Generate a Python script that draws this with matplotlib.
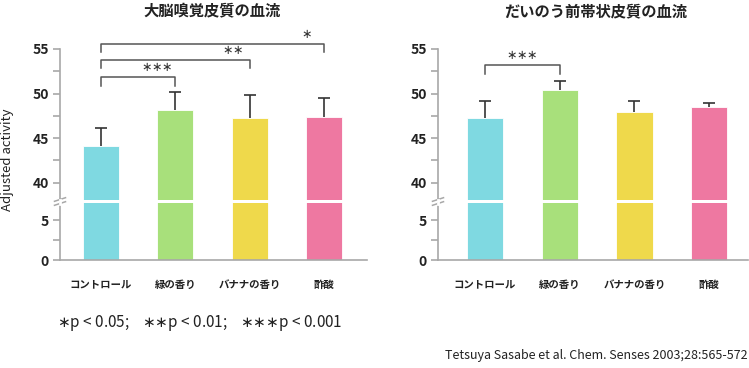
import matplotlib
matplotlib.use("Agg")
import matplotlib.pyplot as plt

plt.rcParams['font.family'] = ['Noto Sans CJK JP', 'DejaVu Sans']

# datos
categorias = ["コントロール", "緑の香り", "バナナの香り", "酢酸"]
colores = ["#7fd9e1", "#a8e07b", "#efd94b", "#ee78a1"]

titulo_izq = "大脳嗅覚皮質の血流"
media_izq = [44.15, 48.16, 47.26, 47.41]
error_izq = [1.99, 1.99, 2.62, 2.06]
# (desde, hasta, altura, pie, texto, x del texto)
marcas_izq = [(0, 1, 51.9, 50.9, "***", 0.75),
              (0, 2, 53.75, 52.85, "**", 1.77),
              (0, 3, 55.55, 54.7, "*", 2.77)]

titulo_der = "だいのう前帯状皮質の血流"
media_der = [47.23, 50.37, 47.9, 48.46]
error_der = [1.97, 1.01, 1.3, 0.49]
marcas_der = [(0, 1, 53.2, 52.2, "***", 0.5)]

ticks_arriba = [40, 45, 50, 55]
ticks_abajo = [0, 5]

GRIS = "#a8a8a8"
W, H = 749, 368


def ejes(x0, x1, y0, y1):
    return fig.add_axes([x0 / W, 1 - y1 / H, (x1 - x0) / W, (y1 - y0) / H])


def estrellas(n):
    # asteriscos centrados sin el espaciado de operador binario
    return "$" + "{\\ast}" * n + "$"


def panel(x0, x1, xlim, xtitulo, titulo, media, error, marcas):
    arriba = ejes(x0, x1, 49, 200)
    abajo = ejes(x0, x1, 203, 260)
    pos = list(range(len(categorias)))
    for ax in (arriba, abajo):
        ax.bar(pos, media, width=0.485, color=colores, edgecolor="white", linewidth=0.6)
        ax.set_xlim(*xlim)
        for s in ("top", "right"):
            ax.spines[s].set_visible(False)
        ax.spines["left"].set_color(GRIS)
        ax.spines["bottom"].set_color(GRIS)
        ax.spines["left"].set_linewidth(1.2)
        ax.spines["bottom"].set_linewidth(1.2)
        ax.tick_params(axis="y", which="both", color=GRIS, length=5, width=1.2,
                       labelsize=10, labelcolor="#222222", pad=3)
        ax.set_xticks([])
    # barras de error solo hacia arriba, sin tope abajo
    tope = [m + e for m, e in zip(media, error)]
    arriba.vlines(pos, media, tope, color="#333333", lw=1.2)
    arriba.plot(pos, tope, ls="none", marker="_", ms=9, mew=1.2, color="#333333")
    arriba.set_ylim(38.06, 55)
    arriba.set_yticks(ticks_arriba)
    arriba.set_yticks([42.5, 47.5, 52.5], minor=True)
    arriba.spines["bottom"].set_visible(False)
    abajo.set_ylim(0, 7.18)
    abajo.set_yticks(ticks_abajo)
    abajo.set_yticks([2.5], minor=True)
    for lab in arriba.get_yticklabels() + abajo.get_yticklabels():
        lab.set_fontweight("bold")

    abajo.set_xticks(pos)
    abajo.set_xticklabels(categorias, fontsize=7.5, fontweight="bold", color="#222222")
    abajo.tick_params(axis="x", length=0, pad=14)

    # brackets de significancia
    for a, b, alto, pie, txt, xt in marcas:
        arriba.plot([a, a, b, b], [pie, alto, alto, pie], color="#555555", lw=1.1,
                    clip_on=False)
        arriba.text(xt, alto + 0.3, estrellas(len(txt)), ha="center", va="bottom",
                    fontsize=9, color="#333333", clip_on=False)

    # marca de corte
    d = 5.5
    for ypx in (199.5, 203.5):
        fig.add_artist(plt.Line2D([(x0 - d) / W, (x0 + d) / W],
                                  [1 - (ypx + 1.8) / H, 1 - (ypx - 1.8) / H],
                                  color=GRIS, lw=1.1))
    fig.add_artist(plt.Line2D([x0 / W, x0 / W], [1 - 203.5 / H, 1 - 199.5 / H],
                              color="white", lw=2))

    fig.text(xtitulo / W, 1 - 11 / H, titulo, ha="center", va="center", fontsize=11,
             fontweight="bold", color="#222222")


fig = plt.figure(figsize=(W / 100, H / 100), dpi=100)

panel(60, 367, (-0.55, 3.58), 212, titulo_izq, media_izq, error_izq, marcas_izq)
panel(438, 748, (-0.63, 3.52), 596, titulo_der, media_der, error_der, marcas_der)

fig.text(8 / W, 1 - 160 / H, "Adjusted activity", rotation=90, ha="center", va="center",
         fontsize=9.5, color="#222222")
nota = "    ".join(estrellas(n) + "p < " + p for n, p in ((1, "0.05;"), (2, "0.01;"), (3, "0.001")))
fig.text(57 / W, 1 - 323 / H, nota, ha="left", va="center", fontsize=11, color="#222222")
fig.text(748 / W, 1 - 355 / H, "Tetsuya Sasabe et al. Chem. Senses 2003;28:565-572",
         ha="right", va="center", fontsize=9, color="#222222")

fig.savefig("out.png", dpi=100)
